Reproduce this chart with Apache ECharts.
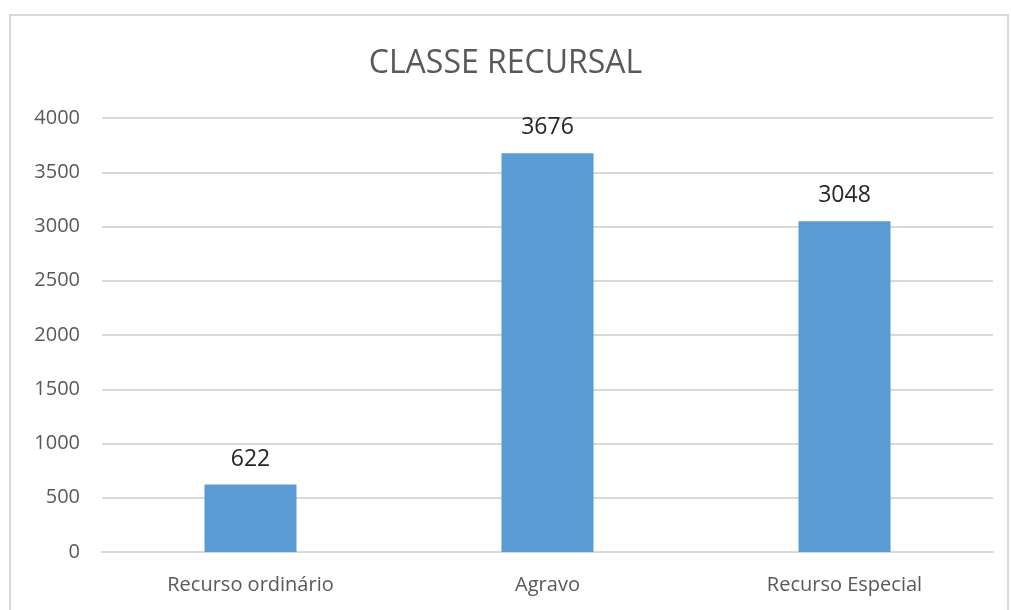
<!DOCTYPE html>
<html>
<head>
<meta charset="utf-8">
<script src="https://cdn.jsdelivr.net/npm/echarts@6/dist/echarts.min.js"></script>
<style>
  html, body { margin: 0; padding: 0; background: #fff; }
  #chart { width: 1011px; height: 610px; }
</style>
</head>
<body>
<div id="chart"></div>
<script>
// categorias e valores
var categorias = ['Recurso ordinário', 'Agravo', 'Recurso Especial'];
var valores = [622, 3676, 3048];

var myChart = echarts.init(document.getElementById('chart'));

var option = {
    animation: false,
    backgroundColor: '#fff',
    textStyle: { fontFamily: 'Open Sans, Noto Sans, sans-serif' },
    graphic: [{
        type: 'rect',
        shape: { x: 10, y: 15, width: 998, height: 620 },
        style: { fill: 'none', stroke: '#d9d9d9', lineWidth: 2 },
        silent: true
    }],
    title: {
        text: 'CLASSE RECURSAL',
        left: 'center',
        top: 43,
        textStyle: {
            color: '#595959',
            fontSize: 32,
            fontWeight: 'normal',
            fontFamily: 'Open Sans, Noto Sans, sans-serif'
        }
    },
    grid: {
        left: 102,
        right: 18,
        top: 118,
        bottom: 58
    },
    xAxis: {
        type: 'category',
        data: categorias,
        axisLine: { lineStyle: { color: '#d9d9d9', width: 2 } },
        axisTick: { show: false },
        axisLabel: { color: '#595959', fontSize: 20, margin: 23 }
    },
    yAxis: {
        type: 'value',
        min: 0,
        max: 4000,
        interval: 500,
        axisLine: { show: false },
        axisTick: { show: false },
        axisLabel: {
            color: '#595959',
            fontSize: 20,
            margin: 22,
            formatter: function (v) { return String(v); }
        },
        splitLine: { lineStyle: { color: '#d9d9d9', width: 2 } }
    },
    series: [{
        type: 'bar',
        data: valores,
        barWidth: 92,
        itemStyle: { color: '#5b9bd5' },
        label: {
            show: true,
            position: 'top',
            distance: 14,
            color: '#262626',
            fontSize: 23
        }
    }]
};

myChart.setOption(option);
window.onresize = myChart.resize;
</script>
</body>
</html>
